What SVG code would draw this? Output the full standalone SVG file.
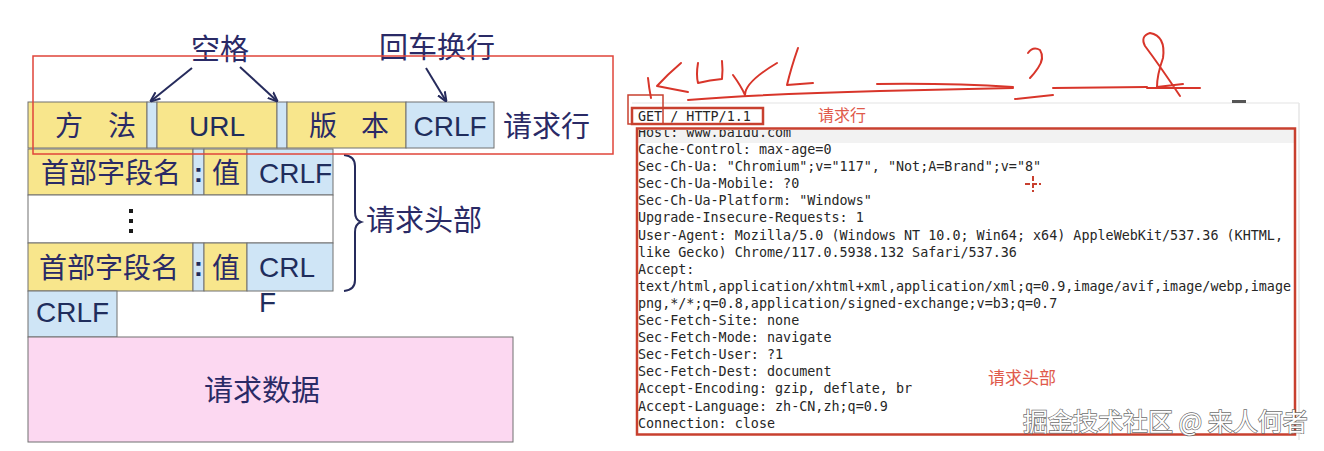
<svg xmlns="http://www.w3.org/2000/svg" width="1324" height="451" viewBox="0 0 1324 451">
<style>
.y{fill:#f8e68c;stroke:#707070;stroke-width:1}
.b{fill:#cfe5f6;stroke:#707070;stroke-width:1}
.w{fill:#ffffff;stroke:#707070;stroke-width:1}
.p{fill:#fcd8f1;stroke:#707070;stroke-width:1}
.cn{font-family:"Noto Sans CJK SC","Noto Sans",sans-serif;font-size:28px;fill:#2a2a66}
.en{font-family:"Liberation Sans",Arial,sans-serif;font-size:28px;fill:#1f2d5c}
.ann{font-family:"Noto Sans CJK SC","Noto Sans",sans-serif;font-size:29px;fill:#2a2a66}
.arr{stroke:#262b5c;stroke-width:2;fill:none;marker-end:url(#ah)}
.mono{font-family:"DejaVu Sans Mono","Liberation Mono",monospace;font-size:13.4px;fill:#262626}
.red{fill:none;stroke:#c8402f;stroke-width:2.5}
.rlab{font-family:"Noto Sans CJK SC",sans-serif;fill:#e05a4b}
.hw{fill:none;stroke:#d8352a;stroke-width:2;stroke-linecap:round;stroke-linejoin:round}
</style>
<defs>
<marker id="ah" viewBox="0 0 10 10" refX="9" refY="5" markerWidth="5" markerHeight="5" orient="auto">
<path d="M0,1 L10,5 L0,9" fill="none" stroke="#262b5c" stroke-width="2"/>
</marker>
<clipPath id="hostclip"><rect x="630" y="130" width="660" height="20"/></clipPath>
</defs>
<rect width="1324" height="451" fill="#ffffff"/>

<g id="request-line">
<rect class="y" x="28" y="102" width="119" height="46"/>
<rect class="b" x="147" y="102" width="10" height="46"/>
<rect class="y" x="157" y="102" width="120" height="46"/>
<rect class="b" x="277" y="102" width="10" height="46"/>
<rect class="y" x="287" y="102" width="119" height="46"/>
<rect class="b" x="406" y="102" width="88" height="46"/>
<text class="cn" x="55" y="136">方</text>
<text class="cn" x="108" y="136">法</text>
<text class="en" x="217" y="136" text-anchor="middle">URL</text>
<text class="cn" x="309" y="136">版</text>
<text class="cn" x="361" y="136">本</text>
<text class="en" x="450" y="136" text-anchor="middle">CRLF</text>
<text class="ann" x="503" y="137">请求行</text>
</g>

<g id="label-space">
<text class="ann" x="220" y="60" text-anchor="middle">空格</text>
</g>
<g id="label-crlf">
<text class="ann" x="437" y="58" text-anchor="middle">回车换行</text>
</g>

<g id="header-row-1">
<rect class="y" x="28" y="149" width="165" height="46"/>
<rect class="b" x="193" y="149" width="11" height="46"/>
<rect class="y" x="204" y="149" width="43" height="46"/>
<rect class="b" x="247" y="149" width="86" height="46"/>
<text class="cn" x="111" y="183" text-anchor="middle">首部字段名</text>
<text class="en" x="198.5" y="182" text-anchor="middle" font-weight="bold" fill="#222">:</text>
<text class="cn" x="226" y="183" text-anchor="middle">值</text>
<text class="en" x="259" y="183">CRLF</text>
</g>
<g id="header-dots">
<rect class="w" x="28" y="195" width="305" height="48"/>
<rect x="129" y="209" width="4" height="4" fill="#1a1a1a"/>
<rect x="129" y="219" width="4" height="4" fill="#1a1a1a"/>
<rect x="129" y="229" width="4" height="4" fill="#1a1a1a"/>
</g>
<g id="header-row-n">
<rect class="y" x="28" y="243" width="165" height="48"/>
<rect class="b" x="193" y="243" width="11" height="48"/>
<rect class="y" x="204" y="243" width="43" height="48"/>
<rect class="b" x="247" y="243" width="86" height="48"/>
<text class="cn" x="109" y="278" text-anchor="middle">首部字段名</text>
<text class="en" x="198.5" y="276" text-anchor="middle" font-weight="bold" fill="#222">:</text>
<text class="cn" x="226" y="278" text-anchor="middle">值</text>
<text class="en" x="259" y="277">CRL</text>
<text class="en" x="259" y="312">F</text>
</g>
<g id="header-brace">
<path d="M344,155 Q355,156 355,166 L355,212 Q355,220 361,222 Q355,224 355,232 L355,280 Q355,290 344,291" fill="none" stroke="#262b5c" stroke-width="2"/>
<text class="ann" x="366" y="231">请求头部</text>
</g>
<g id="empty-line">
<rect class="b" x="28" y="291" width="89" height="46"/>
<text class="en" x="72.5" y="322" text-anchor="middle">CRLF</text>
</g>
<g id="request-body">
<rect class="p" x="28" y="337" width="485" height="105"/>
<text class="ann" x="262" y="401" text-anchor="middle">请求数据</text>
</g>

<g id="connectors">
<path class="arr" d="M192,68 L151,101"/>
<path class="arr" d="M240,67 L277,101"/>
<path class="arr" d="M426,68 L446,101"/>
<rect x="33" y="56" width="580" height="98" fill="none" stroke="#e0443a" stroke-width="1.5"/>
</g>

<g id="screenshot">
<line x1="632" y1="103" x2="1299" y2="103" stroke="#ececec" stroke-width="1.5"/>
<line x1="1299" y1="103" x2="1299" y2="440" stroke="#e6e6e6" stroke-width="1.5"/>
<rect x="1232" y="100" width="14" height="3" fill="#555"/>
<rect x="637" y="130" width="658" height="13" fill="#f2f2f2"/>
<text class="mono" x="638" y="121">GET / HTTP/1.1</text>
<text class="mono" x="638" y="137" clip-path="url(#hostclip)">Host: www.baidu.com</text>
<text class="mono" x="638" y="154">Cache-Control: max-age=0</text>
<text class="mono" x="638" y="171.1">Sec-Ch-Ua: "Chromium";v="117", "Not;A=Brand";v="8"</text>
<text class="mono" x="638" y="188.2">Sec-Ch-Ua-Mobile: ?0</text>
<text class="mono" x="638" y="205.3">Sec-Ch-Ua-Platform: "Windows"</text>
<text class="mono" x="638" y="222.4">Upgrade-Insecure-Requests: 1</text>
<text class="mono" x="638" y="239.5">User-Agent: Mozilla/5.0 (Windows NT 10.0; Win64; x64) AppleWebKit/537.36 (KHTML,</text>
<text class="mono" x="638" y="256.6">like Gecko) Chrome/117.0.5938.132 Safari/537.36</text>
<text class="mono" x="638" y="273.7">Accept:</text>
<text class="mono" x="638" y="290.8">text/html,application/xhtml+xml,application/xml;q=0.9,image/avif,image/webp,image</text>
<text class="mono" x="638" y="307.9">png,*/*;q=0.8,application/signed-exchange;v=b3;q=0.7</text>
<text class="mono" x="638" y="325">Sec-Fetch-Site: none</text>
<text class="mono" x="638" y="342.1">Sec-Fetch-Mode: navigate</text>
<text class="mono" x="638" y="359.2">Sec-Fetch-User: ?1</text>
<text class="mono" x="638" y="376.3">Sec-Fetch-Dest: document</text>
<text class="mono" x="638" y="393.4">Accept-Encoding: gzip, deflate, br</text>
<text class="mono" x="638" y="410.5">Accept-Language: zh-CN,zh;q=0.9</text>
<text class="mono" x="638" y="427.6">Connection: close</text>
<rect class="red" x="632" y="108" width="131" height="16"/>
<rect x="628" y="95" width="35" height="29" fill="none" stroke="#c8402f" stroke-width="1.5"/>
<rect class="red" x="637" y="128.5" width="658" height="306"/>
<text class="rlab" x="818" y="121" font-size="16">请求行</text>
<text class="rlab" x="988" y="384" font-size="17">请求头部</text>
<path d="M1033,176 L1033,192 M1025,184 L1041,184" stroke="#c8402f" stroke-width="2" stroke-dasharray="5,2" fill="none"/>
</g>

<g id="handwriting">
<path class="hw" d="M648,78 Q649,88 651,98"/>
<path class="hw" d="M681,63 Q668,74 657,86 Q672,89 688,92"/>
<path class="hw" d="M698,63 Q696,75 698,83 Q710,80 722,79 Q723,70 722,61"/>
<path class="hw" d="M733,75 Q741,86 745,95 Q745,82 777,63"/>
<path class="hw" d="M798,48 Q791,68 787,85 Q800,84 813,83"/>
<path class="hw" d="M688,100 Q760,94 880,91 L1013,88"/>
<path class="hw" d="M877,84 Q950,83 1013,87"/>
<path class="hw" d="M1028,53 Q1033,46 1040,50 Q1045,58 1038,68 Q1034,74 1030,78"/>
<path class="hw" d="M1015,99 L1053,95"/>
<path class="hw" d="M1053,88 L1147,87"/>
<path class="hw" d="M1180,96 Q1160,66 1145,46 Q1140,36 1150,33 Q1166,36 1163,58 Q1157,75 1157,87 L1183,84"/>
<path class="hw" d="M1147,88 L1200,88"/>
</g>

<g id="watermark">
<text x="1023" y="431" font-family="Noto Sans CJK SC,sans-serif" font-size="25" fill="#ffffff" stroke="#6e6e6e" stroke-width="1.4" paint-order="stroke">掘金技术社区 @ 来人何者</text>
</g>
</svg>
